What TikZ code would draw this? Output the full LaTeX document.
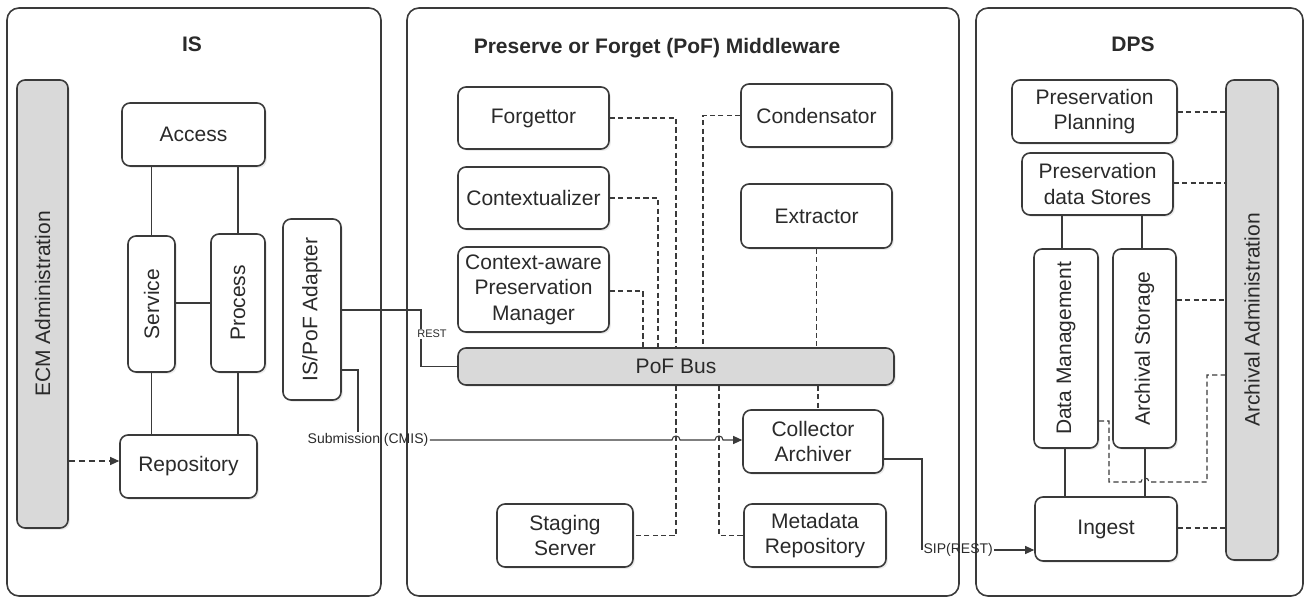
\documentclass[tikz,border=0pt]{standalone}
\usepackage{fontspec}
\setmainfont{Liberation Sans}
\usepackage{graphicx}
\usetikzlibrary{shadows,arrows.meta}

\definecolor{ink}{HTML}{2A2A2A}
\definecolor{edge}{HTML}{3A3A3A}
\definecolor{busgray}{HTML}{D9D9D9}

\tikzset{
  % place a rectangle node by its corners (left, top, right, bottom), in drawing units
  corners/.style n args={4}{at={({(#1+#3)/2},{(#2+#4)/2})},
    minimum width={(#3-#1)*0.5pt}, minimum height={(#4-#2)*0.5pt}},
  panel/.style={draw=edge, line width=0.8pt, rounded corners=6pt, inner sep=0pt},
  box/.style={draw=edge, line width=0.8pt, rounded corners=4pt, fill=white,
    inner sep=0pt, align=center, text=ink,
    font=\fontsize{10.5}{12.8}\selectfont,
    drop shadow={opacity=0.16, shadow xshift=0.9pt, shadow yshift=-0.9pt}},
  graybox/.style={box, fill=busgray},
  title/.style={font=\fontsize{10.5}{12.8}\selectfont\bfseries, text=ink, anchor=base},
  link/.style={draw=edge, line width=0.55pt},
  dlink/.style={link, dash pattern=on 2.6pt off 1.6pt},
  lbl/.style={font=\fontsize{7}{8}\selectfont, text=ink, inner sep=0.6pt},
  tip/.style={-{Triangle[length=4.5pt,width=4pt]}},
}

\begin{document}
\begin{tikzpicture}[x=0.5pt, y=-0.5pt]
\useasboundingbox (0,0) rectangle (1305,598);

% ---------- the three systems ----------
\node[panel, corners={7}{8}{381}{596}] (isp) {};
\node[panel, corners={407}{8}{959}{596}] (pofp) {};
\node[panel, corners={976}{8}{1303}{596}] (dpsp) {};

\node[title] (ist) at (192,52) {IS};
\node[title] (poft) at (657,54) {Preserve or Forget (PoF) Middleware};
\node[title] (dpst) at (1133,52) {DPS};

% ---------- IS ----------
\node[graybox, corners={17}{80}{68}{528}] (ecm) {\rotatebox{90}{ECM Administration}};
\node[box, corners={122}{103}{265}{166}] (access) {Access};
\node[box, corners={128}{236}{175}{372}] (service) {\rotatebox{90}{Service}};
\node[box, corners={211}{234}{265}{372}] (process) {\rotatebox{90}{Process}};
\node[box, corners={283}{219}{341}{400}] (adapter) {\rotatebox{90}{IS/PoF Adapter}};
\node[box, corners={120}{435}{257}{498}] (repo) {Repository};

\draw[link] (access.south -| service.north) -- (service.north);
\draw[link] (access.south -| process.north) -- (process.north);
\draw[link] (service.east |- 0,303) -- (process.west |- 0,303);
\draw[link] (service.south) -- (repo.north -| service.south);
\draw[link] (process.south) -- (repo.north -| process.south);
\draw[link, dash pattern=on 3pt off 2pt, tip] (ecm.east |- 0,461) -- (repo.west |- 0,461);

% ---------- PoF middleware ----------
\node[box, corners={458}{87}{609}{149}] (forg) {Forgettor};
\node[box, corners={458}{167}{609}{229}] (ctx) {Contextualizer};
\node[box, corners={458}{247}{609}{332}] (cpm) {Context-aware\\Preservation\\Manager};
\node[box, corners={741}{84}{892}{147}] (cond) {Condensator};
\node[box, corners={741}{184}{892}{248}] (extr) {Extractor};
\node[graybox, corners={458}{348}{894}{385}] (bus) {PoF Bus};
\node[box, corners={743}{410}{883}{473}] (coll) {Collector\\Archiver};
\node[box, corners={497}{504}{633}{567}] (stag) {Staging\\Server};
\node[box, corners={744}{504}{886}{567}] (meta) {Metadata\\Repository};

\draw[dlink] (forg.east) -| (bus.north);
\draw[dlink] (cond.west) -| (bus.north -| 703,0);
\draw[dlink] (ctx.east) -| (bus.north -| 658,0);
\draw[dlink] (cpm.east |- 0,291) -| (bus.north -| 643,0);
\draw[dlink] (extr.south) -- (bus.north -| extr.south);
\draw[dlink] (bus.south -| 818,0) -- (coll.north -| 818,0);
\draw[dlink] (bus.south) |- (stag.east);
\draw[dlink] (bus.south -| 719,0) |- (meta.west);

% adapter links
\node[lbl, font=\fontsize{5.5}{6}\selectfont] (restl) at (432,334) {REST};
\draw[link] (adapter.east |- 0,310) -| (restl.north -| 421,0);
\draw[link] (restl.south -| 421,0) |- (bus.west);

\node[lbl] (subl) at (368,440) {Submission (CMIS)};
\draw[link] (adapter.east |- 0,370) -| (subl.north -| 358,0);
\draw[link, tip] (subl.east) -- (672,440)
  .. controls (672,434.7) and (680,434.7) .. (680,440) -- (715,440)
  .. controls (715,434.7) and (723,434.7) .. (723,440)
  -- (coll.west |- 0,440);

% ---------- DPS ----------
\node[box, corners={1012}{80}{1177}{143}] (pplan) {Preservation\\Planning};
\node[box, corners={1022}{153}{1173}{215}] (pds) {Preservation\\data Stores};
\node[box, corners={1034}{249}{1098}{448}] (dm) {\rotatebox{90}{Data Management}};
\node[box, corners={1113}{249}{1176}{448}] (as) {\rotatebox{90}{Archival Storage}};
\node[box, corners={1035}{497}{1177}{561}] (ingest) {Ingest};
\node[graybox, corners={1226}{80}{1278}{560}] (aadm) {\rotatebox{90}{Archival Administration}};

\draw[link] (pds.south -| 1062,0) -- (dm.north -| 1062,0);
\draw[link] (pds.south -| 1142,0) -- (as.north -| 1142,0);
\draw[link] (dm.south -| 1065,0) -- (ingest.north -| 1065,0);
\draw[link] (as.south -| 1145,0) -- (ingest.north -| 1145,0);

\draw[dlink] (pplan.east |- 0,112) -- (aadm.west |- 0,112);
\draw[dlink] (pds.east |- 0,183) -- (aadm.west |- 0,183);
\draw[dlink] (as.east |- 0,300) -- (aadm.west |- 0,300);
\draw[dlink] (ingest.east |- 0,528) -- (aadm.west |- 0,528);
\draw[dlink] (dm.east |- 0,421) -- (1109,421) -- (1109,482) -- (1141,482)
  .. controls (1141,476.7) and (1149,476.7) .. (1149,482)
  -- (1207,482) -- (1207,375) -- (aadm.west |- 0,375);

% collector to ingest
\node[lbl, anchor=west] (sipl) at (922,550) {SIP(REST)};
\draw[link] (coll.east |- 0,459) -| (sipl.west);
\draw[link, tip] (sipl.east) -- (ingest.west |- sipl.east);
\end{tikzpicture}
\end{document}
